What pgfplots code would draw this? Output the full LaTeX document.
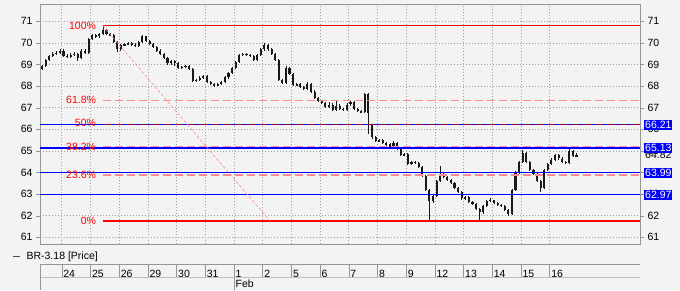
\documentclass[border=0pt]{standalone}
\usepackage{pgfplots}
\pgfplotsset{compat=1.18}
\usepackage{pgfplotstable}
\usepackage{fontspec}
\setmainfont{Liberation Sans}
\definecolor{bg}{RGB}{243,243,243}
\definecolor{frame}{RGB}{150,150,150}
\definecolor{gridc}{RGB}{160,160,160}
\definecolor{fibred}{RGB}{255,0,0}
\definecolor{fibpink}{RGB}{255,140,140}
\definecolor{fibmid}{RGB}{150,0,70}
\definecolor{lvlblue}{RGB}{0,0,255}
\definecolor{candle}{RGB}{25,25,25}

\pgfplotstableread{
x o h l c
-5.5 68.80 69.00 68.75 68.95
-4.5 68.95 69.25 68.90 69.20
-3.5 69.20 69.45 69.15 69.40
-2.5 69.40 69.58 69.35 69.50
-1.5 69.50 69.62 69.45 69.55
-0.5 69.55 69.72 69.50 69.65
0.5 69.65 69.70 69.35 69.40
1.5 69.40 69.48 69.30 69.35
2.5 69.35 69.52 69.30 69.45
3.5 69.45 69.56 69.40 69.50
4.5 69.50 69.55 69.15 69.30
5.5 69.30 69.70 69.25 69.65
6.5 69.65 69.72 69.50 69.55
7.5 69.55 70.25 69.50 70.20
8.5 70.20 70.42 70.15 70.35
9.5 70.35 70.40 70.25 70.30
10.5 70.30 70.48 70.25 70.40
11.5 70.40 70.80 70.35 70.60
12.5 70.60 70.65 70.35 70.40
13.5 70.40 70.45 70.30 70.35
14.5 70.35 70.40 70.00 70.05
15.5 70.05 70.10 69.60 69.70
16.5 69.70 69.95 69.65 69.90
17.5 69.90 70.02 69.85 69.95
18.5 69.95 70.05 69.90 70.00
19.5 70.00 70.05 69.85 69.92
20.5 69.92 69.98 69.80 69.85
21.5 69.85 70.10 69.80 70.05
22.5 70.05 70.35 70.00 70.30
23.5 70.30 70.32 70.05 70.10
24.5 70.10 70.15 69.90 69.95
25.5 69.95 70.00 69.78 69.82
26.5 69.82 69.88 69.60 69.65
27.5 69.65 69.70 69.45 69.50
28.5 69.50 69.55 69.25 69.30
29.5 69.30 69.35 69.00 69.05
30.5 69.05 69.20 69.00 69.15
31.5 69.15 69.20 68.95 69.05
32.5 69.05 69.10 68.80 68.85
33.5 68.85 68.95 68.80 68.90
34.5 68.90 69.00 68.85 68.95
35.5 68.95 69.00 68.75 68.80
36.5 68.80 68.85 68.20 68.25
37.5 68.25 68.35 68.20 68.30
38.5 68.30 68.45 68.25 68.40
39.5 68.40 68.50 68.35 68.45
40.5 68.45 68.50 68.15 68.20
41.5 68.20 68.25 68.05 68.10
42.5 68.10 68.15 67.95 68.05
43.5 68.05 68.15 68.00 68.10
44.5 68.10 68.25 68.05 68.20
45.5 68.20 68.45 68.15 68.40
46.5 68.40 68.65 68.35 68.60
47.5 68.60 68.90 68.55 68.85
48.5 68.85 69.15 68.80 69.10
49.5 69.10 69.50 69.05 69.45
50.5 69.45 69.55 69.40 69.50
51.5 69.50 69.55 69.40 69.45
52.5 69.45 69.50 69.35 69.40
53.5 69.40 69.45 69.15 69.20
54.5 69.20 69.50 69.15 69.45
55.5 69.45 69.75 69.40 69.70
56.5 69.70 70.00 69.65 69.90
57.5 69.90 69.95 69.65 69.70
58.5 69.70 69.75 69.45 69.50
59.5 69.50 69.55 69.15 69.20
60.5 69.20 69.25 68.25 68.30
61.5 68.30 68.35 68.10 68.15
62.5 68.15 68.95 68.10 68.85
63.5 68.85 68.90 68.50 68.55
64.5 68.55 68.60 68.00 68.05
65.5 68.05 68.15 68.00 68.10
66.5 68.10 68.15 67.90 67.95
67.5 67.95 68.00 67.80 67.85
68.5 67.85 68.20 67.80 68.10
69.5 68.10 68.15 67.70 67.75
70.5 67.75 67.80 67.40 67.45
71.5 67.45 67.50 67.25 67.30
72.5 67.30 67.35 67.15 67.20
73.5 67.20 67.25 67.00 67.05
74.5 67.05 67.25 67.00 67.15
75.5 67.15 67.20 66.85 66.90
76.5 66.90 67.30 66.85 67.10
77.5 67.10 67.15 66.90 66.95
78.5 66.95 67.00 66.85 66.90
79.5 66.90 67.20 66.85 67.15
80.5 67.15 67.32 67.10 67.25
81.5 67.25 67.30 66.90 66.95
82.5 66.95 67.00 66.80 66.85
83.5 66.85 66.90 66.75 66.80
84.5 66.80 67.70 66.75 67.65
85.5 67.65 67.70 65.80 66.75
86.5 66.20 66.25 65.55 65.65
87.5 65.65 65.70 65.40 65.45
88.5 65.45 65.55 65.40 65.50
89.5 65.50 65.55 65.30 65.35
90.5 65.35 65.40 65.25 65.30
91.5 65.30 65.35 65.15 65.20
92.5 65.20 65.45 65.15 65.35
93.5 65.35 65.40 65.05 65.10
94.5 65.10 65.15 64.75 64.80
95.5 64.80 64.90 64.75 64.85
96.5 64.85 64.90 64.35 64.40
97.5 64.40 64.55 64.35 64.50
98.5 64.50 64.55 64.40 64.45
99.5 64.45 64.50 64.20 64.25
100.5 64.25 64.30 63.80 63.85
101.5 63.85 63.90 63.15 63.20
102.5 63.20 63.25 61.80 62.70
103.5 62.70 62.95 62.60 62.90
104.5 62.90 63.65 62.85 63.60
105.5 63.60 64.30 63.55 63.95
106.5 63.95 64.00 63.75 63.80
107.5 63.80 63.85 63.60 63.65
108.5 63.65 63.70 63.45 63.50
109.5 63.50 63.55 63.25 63.30
110.5 63.30 63.35 63.05 63.10
111.5 63.10 63.15 62.75 62.80
112.5 62.80 62.90 62.75 62.85
113.5 62.85 62.90 62.60 62.65
114.5 62.65 62.70 62.50 62.55
115.5 62.55 62.60 62.25 62.30
116.5 62.30 62.35 61.80 62.15
117.5 62.15 62.50 62.10 62.45
118.5 62.45 62.75 62.40 62.70
119.5 62.70 62.80 62.65 62.72
120.5 62.72 62.75 62.55 62.60
121.5 62.60 62.65 62.45 62.50
122.5 62.50 62.55 62.40 62.45
123.5 62.45 62.50 62.20 62.25
124.5 62.25 62.30 62.00 62.10
125.5 62.10 63.25 62.05 63.20
126.5 63.20 64.05 63.15 64.00
127.5 64.00 64.55 63.95 64.50
128.5 64.50 65.05 64.45 64.90
129.5 64.90 64.95 64.45 64.50
130.5 64.50 64.55 64.05 64.10
131.5 64.10 64.15 63.90 63.95
132.5 63.95 64.00 63.55 63.60
133.5 63.60 63.65 63.10 63.30
134.5 63.30 64.15 63.25 64.10
135.5 64.10 64.45 64.05 64.40
136.5 64.40 64.65 64.35 64.60
137.5 64.60 64.85 64.55 64.80
138.5 64.80 64.85 64.60 64.65
139.5 64.65 64.70 64.45 64.50
140.5 64.50 64.55 64.40 64.45
141.5 64.45 65.10 64.40 65.00
142.5 65.00 65.05 64.70 64.75
143.5 64.75 64.90 64.70 64.82
}\bars

\begin{document}
\begin{tikzpicture}[font=\fontsize{10.5}{12}\selectfont]
\useasboundingbox (0,0) rectangle (680pt,290pt);
\fill[bg] (0,0) rectangle (680pt,290pt);
\begin{axis}[
  at={(40pt,46pt)}, anchor=south west, scale only axis,
  width=600pt, height=239.5pt,
  xmin=-6.05, xmax=161.2, ymin=60.69, ymax=71.78,
  axis line style={draw=frame},
  xtick={0,8,...,136},
  xticklabels={24,25,26,29,30,31,1,2,5,6,7,8,9,12,13,14,15,16},
  major x tick style={draw=none},
  xticklabel style={anchor=west, yshift=-26.3pt, inner sep=1.5pt},
  ytick={61,...,71},
  yticklabel pos=left,
  tick align=outside, major tick length=4pt,
  tick style={draw=frame},
  grid=major, grid style={gridc, dash pattern=on 1pt off 2pt, line width=0.6pt},
  tick label style={font=\fontsize{10.5}{12}\selectfont, text=black},
  /pgf/number format/assume math mode=true,
  legend style={at={(axis description cs:-0.0457,-0.05)}, anchor=west, draw=none, fill=none, inner sep=0pt, font=\fontsize{10.5}{12}\selectfont,
    /tikz/every odd column/.append style={column sep=4pt}},
  legend image code/.code={\draw[#1] (0pt,0pt) -- (7pt,0pt);},
]
% price candles: wicks and bodies
\addplot[forget plot, draw=none, mark=none,
  error bars/.cd, y dir=both, y explicit, error mark=none,
  error bar style={draw=candle, solid, line width=0.8pt}]
  table[x=x, y=c, y error plus expr=\thisrow{h}-\thisrow{c}, y error minus expr=\thisrow{c}-\thisrow{l}] {\bars};
\addplot[forget plot, draw=none, mark=none,
  error bars/.cd, y dir=both, y explicit, error mark=none,
  error bar style={draw=candle, solid, line width=2.1pt}]
  table[x=x, y expr=(\thisrow{o}+\thisrow{c})/2, y error expr=abs(\thisrow{o}-\thisrow{c})/2] {\bars};
% blue horizontal levels
\addplot[forget plot, lvlblue, line width=1.3pt] coordinates {(-6.05,66.21) (161.2,66.21)};
\addplot[forget plot, lvlblue, line width=1.3pt] coordinates {(-6.05,65.13) (161.2,65.13)};
\addplot[forget plot, lvlblue, line width=1.3pt] coordinates {(-6.05,63.99) (161.2,63.99)};
\addplot[forget plot, lvlblue, line width=1.3pt] coordinates {(-6.05,62.97) (161.2,62.97)};
% Fibonacci levels
\addplot[forget plot, fibred, line width=1.4pt] coordinates {(11.43,70.80) (161.2,70.80)};
\addplot[forget plot, fibpink, line width=1.3pt, dash pattern=on 8pt off 4pt] coordinates {(11.43,67.35) (161.2,67.35)};
\addplot[forget plot, fibmid, line width=1.1pt, dash pattern=on 8pt off 4pt] coordinates {(11.43,66.24) (161.2,66.24)};
\addplot[forget plot, fibpink, line width=1.3pt, dash pattern=on 8pt off 4pt] coordinates {(11.43,65.21) (161.2,65.21)};
\addplot[forget plot, fibpink, line width=1.3pt, dash pattern=on 8pt off 4pt] coordinates {(11.43,63.89) (161.2,63.89)};
\addplot[forget plot, fibred, line width=1.3pt] coordinates {(11.43,61.76) (161.2,61.76)};
\addplot[forget plot, fibpink, line width=0.6pt, dash pattern=on 3pt off 2pt] coordinates {(11.43,70.80) (58.06,61.76)};
% labels of the Fibonacci levels
\node[anchor=east, text=fibred, inner sep=0pt] at (axis cs:9.6,70.80) {100\%};
\node[anchor=east, text=fibred, inner sep=0pt] at (axis cs:9.6,67.35) {61.8\%};
\node[anchor=east, text=fibred, inner sep=0pt] at (axis cs:9.6,66.28) {50\%};
\node[anchor=east, text=fibred, inner sep=0pt] at (axis cs:9.6,65.21) {38.2\%};
\node[anchor=east, text=fibred, inner sep=0pt] at (axis cs:9.6,63.89) {23.6\%};
\node[anchor=east, text=fibred, inner sep=0pt] at (axis cs:9.6,61.76) {0\%};
\coordinate (rA) at (axis cs:161.2,66.21);
\coordinate (rB) at (axis cs:161.2,65.13);
\coordinate (rC) at (axis cs:161.2,63.99);
\coordinate (rD) at (axis cs:161.2,62.97);
\coordinate (rP) at (axis cs:161.2,64.82);
\addlegendimage{draw=black!70, line width=0.8pt}
\addlegendentry{BR-3.18 [Price]}
\end{axis}
\begin{axis}[
  at={(40pt,46pt)}, anchor=south west, scale only axis,
  width=600pt, height=239.5pt,
  xmin=-6.05, xmax=161.2, ymin=60.69, ymax=71.78,
  hide x axis, axis y line*=right,
  axis line style={draw=frame},
  ytick={61,...,71},
  tick align=outside, major tick length=4pt,
  tick style={draw=frame},
  tick label style={font=\fontsize{10.5}{12}\selectfont, text=black},
  /pgf/number format/assume math mode=true,
]
\addplot[draw=none, forget plot] coordinates {(0,65) (1,65)};
\end{axis}
% last price and level boxes on the right
\node[anchor=west, inner xsep=1pt, inner ysep=1.2pt, xshift=4pt, text=black] at (rP) {64.82};
\foreach \c/\v in {rA/66.21, rB/65.13, rC/63.99, rD/62.97}
  \node[anchor=west, fill=lvlblue, text=white, inner xsep=1pt, inner ysep=1.2pt, xshift=4pt] at (\c) {\v};
% date table below the chart
\draw[frame] (40pt,26pt) -- (640pt,26pt);
\draw[frame!60] (40pt,13.3pt) -- (640pt,13.3pt);
\draw[frame] (40pt,0pt) -- (40pt,26pt);
\foreach \k in {0,...,17}
  \draw[frame] ({40pt+(8*\k+6.05)*3.5874pt},13.3pt) -- ++(0,12.7pt);
\draw[frame] ({40pt+(8*6+6.05)*3.5874pt},0pt) -- ++(0,13.3pt);
\node[anchor=west, inner sep=1.5pt] at ({40pt+(8*6+6.05)*3.5874pt},6.7pt) {Feb};
\end{tikzpicture}
\end{document}
